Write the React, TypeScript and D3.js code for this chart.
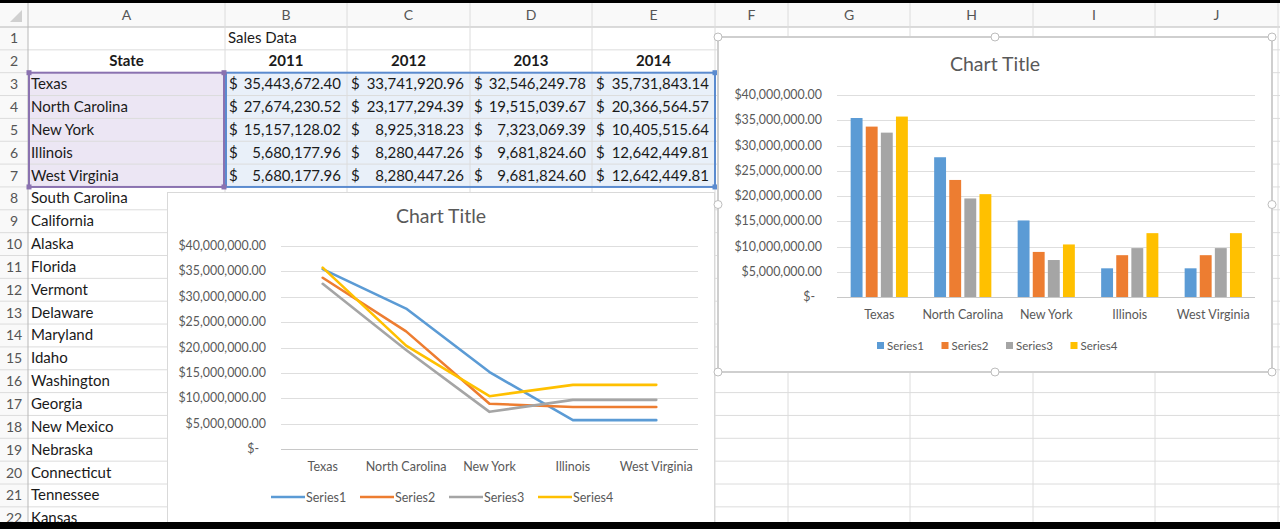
import React from 'react';
import * as d3 from 'd3';

// ---------- data ----------
const states = ['Texas', 'North Carolina', 'New York', 'Illinois', 'West Virginia'];
const yearLabels = ['2011', '2012', '2013', '2014'];
const seriesNames = ['Series1', 'Series2', 'Series3', 'Series4'];
const sales2011 = [35443672.4, 27674230.52, 15157128.02, 5680177.96, 5680177.96];
const sales2012 = [33741920.96, 23177294.39, 8925318.23, 8280447.26, 8280447.26];
const sales2013 = [32546249.78, 19515039.67, 7323069.39, 9681824.6, 9681824.6];
const sales2014 = [35731843.14, 20366564.57, 10405515.64, 12642449.81, 12642449.81];
const seriesValues = [sales2011, sales2012, sales2013, sales2014];
const seriesColors = ['#5B9BD5', '#ED7D31', '#A5A5A5', '#FFC000'];
const valueTicks = [0, 5e6, 10e6, 15e6, 20e6, 25e6, 30e6, 35e6, 40e6];
const otherStates = ['South Carolina', 'California', 'Alaska', 'Florida', 'Vermont', 'Delaware', 'Maryland', 'Idaho', 'Washington', 'Georgia', 'New Mexico', 'Nebraska', 'Connecticut', 'Tennessee', 'Kansas'];
const columnLetters = ['A', 'B', 'C', 'D', 'E', 'F', 'G', 'H', 'I', 'J'];

// ---------- layout ----------
const W = 1280;
const H = 529;
const FONT = "Lato, 'Open Sans', sans-serif";
const colEdges = [0, 28, 225, 347, 470, 592, 715, 788, 910, 1033, 1155, 1278];
const headerTop = 3;
const headerBottom = 27;
const rowH = 22.85;
const rowTop = (r: number) => headerBottom + (r - 1) * rowH;
const rowMid = (r: number) => rowTop(r) + rowH / 2;
const CELL_FS = 15;

const fmt2 = d3.format(',.2f');
const tickFmt = (v: number) => (v === 0 ? '$-' : '$' + fmt2(v));

function Sheet() {
  const hLines: number[] = [];
  for (let r = 1; r <= 22; r++) hLines.push(rowTop(r));
  const cells: JSX.Element[] = [];
  cells.push(<text key="sd" x={colEdges[2] + 3} y={rowMid(1) + 5} fontSize={CELL_FS}>Sales Data</text>);
  cells.push(<text key="st" x={(colEdges[1] + colEdges[2]) / 2} y={rowMid(2) + 5} fontSize={CELL_FS} fontWeight="bold" textAnchor="middle">State</text>);
  yearLabels.forEach((y, i) => {
    cells.push(<text key={'y' + i} x={(colEdges[2 + i] + colEdges[3 + i]) / 2} y={rowMid(2) + 5} fontSize={CELL_FS} fontWeight="bold" textAnchor="middle">{y}</text>);
  });
  states.forEach((s, r) => {
    cells.push(<text key={'s' + r} x={colEdges[1] + 3} y={rowMid(3 + r) + 5} fontSize={CELL_FS}>{s}</text>);
    seriesValues.forEach((vals, c) => {
      const l = colEdges[2 + c];
      const rr = colEdges[3 + c];
      cells.push(<text key={'d' + r + c} x={l + 4} y={rowMid(3 + r) + 5} fontSize={CELL_FS}>$</text>);
      cells.push(<text key={'v' + r + c} x={rr - 6} y={rowMid(3 + r) + 5} fontSize={CELL_FS} textAnchor="end">{fmt2(vals[r])}</text>);
    });
  });
  otherStates.forEach((s, i) => {
    cells.push(<text key={'o' + i} x={colEdges[1] + 3} y={rowMid(8 + i) + 5} fontSize={CELL_FS}>{s}</text>);
  });

  const selA = { x: colEdges[1], y: rowTop(3), w: colEdges[2] - colEdges[1], h: rowTop(8) - rowTop(3) };
  const selB = { x: colEdges[2], y: rowTop(3), w: colEdges[6] - colEdges[2], h: rowTop(8) - rowTop(3) };
  return (
    <g fontFamily={FONT} fill="#1a1a1a">
      <rect x={0} y={0} width={W} height={H} fill="#ffffff" />
      <rect x={0} y={headerTop} width={W} height={headerBottom - headerTop} fill="#f9f9f9" />
      <rect x={0} y={headerBottom} width={colEdges[1]} height={H} fill="#f9f9f9" />
      <rect x={selA.x} y={selA.y} width={selA.w} height={selA.h} fill="#ece6f4" />
      <rect x={selB.x} y={selB.y} width={selB.w} height={selB.h} fill="#e9f0f9" />
      {hLines.map((y, i) => (
        <line key={'h' + i} x1={0} x2={W} y1={y} y2={y} stroke={i === 0 ? '#b8b8b8' : '#dcdcdc'} strokeWidth={1} />
      ))}
      {colEdges.slice(1).map((x, i) => (
        <line key={'v' + i} x1={x} x2={x} y1={headerTop} y2={H} stroke={i === 0 ? '#b8b8b8' : '#dcdcdc'} strokeWidth={1} />
      ))}
      <path d="M22,10 L22,22 L10,22 Z" fill="#d0d0d0" />
      {columnLetters.map((c, i) => (
        <text key={'c' + i} x={(colEdges[i + 1] + colEdges[i + 2]) / 2} y={20} fontSize={14} textAnchor="middle" fill="#555">{c}</text>
      ))}
      {d3.range(1, 23).map((r) => (
        <text key={'r' + r} x={14} y={rowMid(r) + 5} fontSize={14} textAnchor="middle" fill="#555">{r}</text>
      ))}
      {cells}
      <rect x={selA.x + 1} y={selA.y} width={selA.w - 2} height={selA.h} fill="none" stroke="#8a72b0" strokeWidth={2} />
      <rect x={selB.x + 1} y={selB.y} width={selB.w - 1} height={selB.h} fill="none" stroke="#5b8bcf" strokeWidth={2} />
      {[[selA.x + 1, selA.y], [selA.x + selA.w - 1, selA.y], [selA.x + 1, selA.y + selA.h], [selA.x + selA.w - 1, selA.y + selA.h]].map(([x, y], i) => (
        <rect key={'ha' + i} x={x - 2.5} y={y - 2.5} width={5} height={5} fill="#8a72b0" />
      ))}
      {[[selB.x + selB.w, selB.y], [selB.x + selB.w, selB.y + selB.h]].map(([x, y], i) => (
        <rect key={'hb' + i} x={x - 2.5} y={y - 2.5} width={5} height={5} fill="#5b8bcf" />
      ))}
    </g>
  );
}

function LineChart() {
  const fx = 167, fy = 192, fw = 548, fh = 340;
  const x = d3.scaleBand<string>().domain(states).range([281, 698]);
  const y = d3.scaleLinear().domain([0, 40e6]).range([449, 246]);
  const line = d3
    .line<number>()
    .x((_, i) => (x(states[i]) as number) + x.bandwidth() / 2)
    .y((d) => y(d));
  const legendStart = 271;
  const legendStep = 89;
  return (
    <g fontFamily={FONT}>
      <rect x={fx + 0.5} y={fy + 0.5} width={fw - 1} height={fh} fill="#ffffff" stroke="#d9d9d9" />
      <text x={fx + fw / 2} y={223} fontSize={19.5} textAnchor="middle" fill="#595959">Chart Title</text>
      {valueTicks.map((t) => (
        <g key={t}>
          <line x1={281} x2={698} y1={Math.round(y(t)) + 0.5} y2={Math.round(y(t)) + 0.5} stroke={t === 0 ? '#c8c8c8' : '#dedede'} />
          <text x={t === 0 ? 259 : 266} y={y(t) + 4} fontSize={12.4} textAnchor="end" fill="#595959">{tickFmt(t)}</text>
        </g>
      ))}
      {states.map((s) => (
        <text key={s} x={(x(s) as number) + x.bandwidth() / 2} y={471} fontSize={12.5} textAnchor="middle" fill="#595959">{s}</text>
      ))}
      {seriesValues.map((vals, i) => (
        <path key={i} d={line(vals) || ''} fill="none" stroke={seriesColors[i]} strokeWidth={2.6} strokeLinejoin="round" strokeLinecap="round" />
      ))}
      {seriesNames.map((n, i) => (
        <g key={n}>
          <line x1={legendStart + i * legendStep} x2={legendStart + i * legendStep + 34} y1={497} y2={497} stroke={seriesColors[i]} strokeWidth={2.6} />
          <text x={legendStart + i * legendStep + 35} y={501.5} fontSize={12.5} fill="#595959">{n}</text>
        </g>
      ))}
    </g>
  );
}

function BarChart() {
  const fx = 718, fy = 37, fw = 554, fh = 335;
  const x0 = d3.scaleBand<string>().domain(states).range([837.5, 1255]);
  const groupW = x0.bandwidth() * 0.685;
  const x1 = d3.scaleBand<string>().domain(seriesNames).range([0, groupW]).paddingInner(0.2126);
  const y = d3.scaleLinear().domain([0, 40e6]).range([297, 95]);
  const legendStart = 877;
  const legendStep = 64.5;
  const handles = [
    [fx, fy], [fx + fw / 2, fy], [fx + fw, fy],
    [fx, fy + fh / 2], [fx + fw, fy + fh / 2],
    [fx, fy + fh], [fx + fw / 2, fy + fh], [fx + fw, fy + fh],
  ];
  return (
    <g fontFamily={FONT}>
      <rect x={fx} y={fy} width={fw} height={fh} fill="#ffffff" stroke="#cfcfcf" strokeWidth={2} />
      <text x={fx + fw / 2} y={71} fontSize={19.5} textAnchor="middle" fill="#595959">Chart Title</text>
      {valueTicks.map((t) => (
        <g key={t}>
          <line x1={837} x2={1255} y1={Math.round(y(t)) + 0.5} y2={Math.round(y(t)) + 0.5} stroke={t === 0 ? '#c8c8c8' : '#dedede'} />
          <text x={t === 0 ? 815 : 822} y={y(t) + 4} fontSize={12.4} textAnchor="end" fill="#595959">{tickFmt(t)}</text>
        </g>
      ))}
      {states.map((s, si) => {
        const gx = (x0(s) as number) + (x0.bandwidth() - groupW) / 2;
        return (
          <g key={s}>
            {seriesValues.map((vals, i) => (
              <rect key={i} x={gx + (x1(seriesNames[i]) as number)} y={y(vals[si])} width={x1.bandwidth()} height={y(0) - y(vals[si])} fill={seriesColors[i]} />
            ))}
            <text x={(x0(s) as number) + x0.bandwidth() / 2} y={319} fontSize={12.5} textAnchor="middle" fill="#595959">{s}</text>
          </g>
        );
      })}
      {seriesNames.map((n, i) => (
        <g key={n}>
          <rect x={legendStart + i * legendStep} y={342} width={7} height={7} fill={seriesColors[i]} />
          <text x={legendStart + i * legendStep + 10} y={350} fontSize={11.5} fill="#595959">{n}</text>
        </g>
      ))}
      {handles.map(([hx, hy], i) => (
        <circle key={i} cx={hx} cy={hy} r={4} fill="#ffffff" stroke="#bdbdbd" strokeWidth={1} />
      ))}
    </g>
  );
}

export default function App() {
  return (
    <svg width={W} height={H} style={{ position: 'absolute', left: 0, top: 0, display: 'block' }}>
      <Sheet />
      <LineChart />
      <BarChart />
      <rect x={0} y={0} width={W} height={3} fill="#000" />
      <rect x={0} y={522} width={W} height={H - 522} fill="#000" />
    </svg>
  );
}
